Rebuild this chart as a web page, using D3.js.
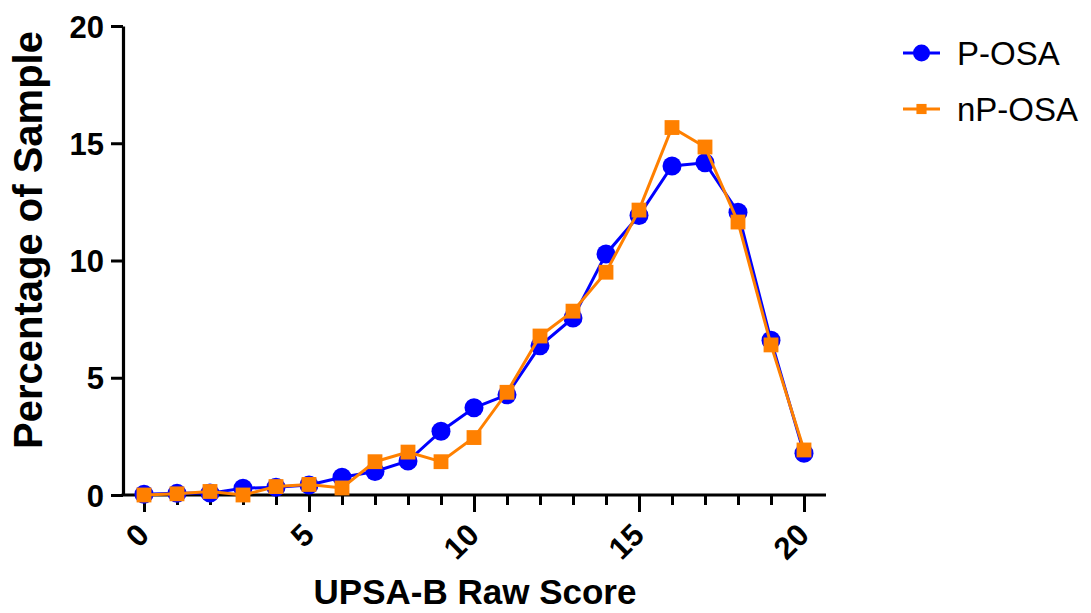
<!DOCTYPE html>
<html>
<head>
<meta charset="utf-8">
<script src="https://cdn.jsdelivr.net/npm/d3@7"></script>
<style>
  html, body { margin: 0; padding: 0; background: #fff; }
  svg { display: block; font-family: "Liberation Sans", Arial, Helvetica, sans-serif; }
</style>
</head>
<body>
<svg id="chart" width="1091" height="613"></svg>
<script>
// UPSA-B raw score (0–20) and the percentage of each group at that score
const scores = [0, 1, 2, 3, 4, 5, 6, 7, 8, 9, 10, 11, 12, 13, 14, 15, 16, 17, 18, 19, 20];
const pOSA   = [0.03, 0.07, 0.08, 0.29, 0.33, 0.43, 0.76, 1.0, 1.45, 2.72, 3.72, 4.27, 6.36, 7.55, 10.28, 11.92, 14.03, 14.17, 12.06, 6.6, 1.78];
const npOSA  = [0.0, 0.05, 0.15, 0.0, 0.36, 0.45, 0.3, 1.42, 1.83, 1.42, 2.45, 4.38, 6.78, 7.84, 9.5, 12.15, 15.67, 14.84, 11.64, 6.4, 1.92];
const yTicks = [0, 5, 10, 15, 20];
const xMajor = [0, 5, 10, 15, 20];

const series = [
  { name: "P-OSA",  values: pOSA,  color: "#0000ff", symbol: "circle" },
  { name: "nP-OSA", values: npOSA, color: "#ff8000", symbol: "square" }
];

const svg = d3.select("#chart");

const x = d3.scaleLinear().domain([0, 20]).range([144, 804]);
const y = d3.scaleLinear().domain([0, 20]).range([495, 26]);
const axisLeftX = 123;
const axisRightX = 826;

// Y axis
const yAxis = svg.append("g")
  .attr("transform", `translate(${axisLeftX},0)`)
  .call(d3.axisLeft(y).tickValues(yTicks).tickSize(12).tickSizeOuter(0).tickPadding(7));
yAxis.select(".domain").attr("stroke", "#000").attr("stroke-width", 3.2);
yAxis.selectAll(".tick line").attr("stroke", "#000").attr("stroke-width", 3);
yAxis.selectAll(".tick text")
  .attr("fill", "#000")
  .style("font-size", "31px")
  .style("font-weight", "bold")
  .attr("dy", "0.36em");

// X axis: minor tick at every score, longer tick on the labelled ones
const xAxis = svg.append("g")
  .attr("transform", `translate(0,${y(0)})`)
  .call(d3.axisBottom(x).tickValues(scores).tickSize(10).tickSizeOuter(0).tickFormat(""));
xAxis.select(".domain").remove();
xAxis.append("line")
  .attr("x1", axisLeftX - 1.5).attr("x2", axisRightX)
  .attr("y1", 0).attr("y2", 0)
  .attr("stroke", "#000").attr("stroke-width", 3.2);
xAxis.selectAll(".tick line")
  .attr("stroke", "#000").attr("stroke-width", 3)
  .attr("y2", d => xMajor.includes(d) ? 17 : 10);
xAxis.selectAll(".tick text").remove();

svg.append("g").selectAll("text")
  .data(xMajor)
  .join("text")
  .attr("transform", d => `translate(${x(d) - 1},${y(0) + 34}) rotate(-45)`)
  .attr("text-anchor", "end")
  .attr("dy", "0.36em")
  .style("font-size", "31px")
  .style("font-weight", "bold")
  .text(d => d);

// Axis titles
svg.append("text")
  .attr("x", 475).attr("y", 604)
  .attr("text-anchor", "middle")
  .style("font-size", "35px")
  .style("font-weight", "bold")
  .text("UPSA-B Raw Score");

svg.append("text")
  .attr("transform", "translate(42,240) rotate(-90)")
  .attr("text-anchor", "middle")
  .style("font-size", "40px")
  .style("font-weight", "bold")
  .text("Percentage of Sample");

// Series lines and markers
const line = d3.line()
  .x((d, i) => x(scores[i]))
  .y(d => y(d));

function drawMarker(sel, s, size) {
  if (s.symbol === "circle") {
    sel.append("circle").attr("r", size / 2).attr("fill", s.color);
  } else {
    sel.append("rect")
      .attr("x", -size * 0.39).attr("y", -size * 0.39)
      .attr("width", size * 0.78).attr("height", size * 0.78)
      .attr("fill", s.color);
  }
}

series.forEach(s => {
  const g = svg.append("g");
  g.append("path")
    .datum(s.values)
    .attr("d", line)
    .attr("fill", "none")
    .attr("stroke", s.color)
    .attr("stroke-width", 3);
  g.selectAll("g.pt")
    .data(s.values)
    .join("g")
    .attr("class", "pt")
    .attr("transform", (d, i) => `translate(${x(scores[i])},${y(d)})`)
    .each(function () { drawMarker(d3.select(this), s, 19); });
});

// Legend
const legend = svg.append("g");
series.forEach((s, i) => {
  const cy = 53 + i * 56;
  const g = legend.append("g").attr("transform", `translate(0,${cy})`);
  g.append("line")
    .attr("x1", 903).attr("x2", 940)
    .attr("stroke", s.color).attr("stroke-width", 3);
  const m = g.append("g").attr("transform", "translate(921.5,0)");
  drawMarker(m, s, s.symbol === "circle" ? 17 : 13);
  g.append("text")
    .attr("x", 957).attr("y", 0)
    .attr("dy", "0.36em")
    .style("font-size", "33px")
    .text(s.name);
});
</script>
</body>
</html>
